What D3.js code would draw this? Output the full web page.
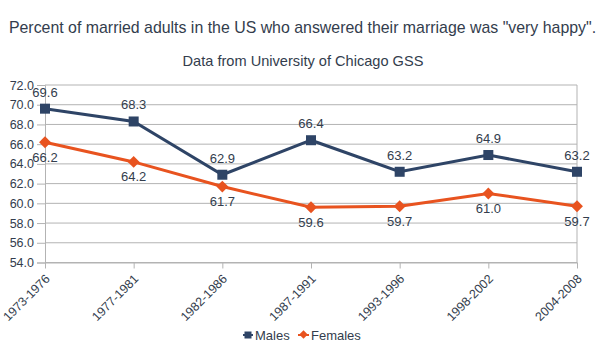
<!DOCTYPE html>
<html><head><meta charset="utf-8">
<script src="https://cdn.jsdelivr.net/npm/d3@7"></script>
<style>body{margin:0;background:#fff}svg{display:block;font-family:"Liberation Sans",Arial,sans-serif}</style>
</head><body>
<script>
const categories = ["1973-1976","1977-1981","1982-1986","1987-1991","1993-1996","1998-2002","2004-2008"];
const males = [69.6, 68.3, 62.9, 66.4, 63.2, 64.9, 63.2];
const females = [66.2, 64.2, 61.7, 59.6, 59.7, 61.0, 59.7];
const yTicks = [54,56,58,60,62,64,66,68,70,72];

(function(){
const W = 605, H = 351;
const mLeft = 45, mRight = 577, mTop = 85, mBottom = 262.5;
const textColor = "#333d4d";
const maleColor = "#2e4466", femaleColor = "#e8531f", gridColor = "#b3b3b3";
const FF = "Liberation Sans, Arial, sans-serif";

const svg = d3.select("body").append("svg").attr("width", W).attr("height", H);
const x = d3.scalePoint().domain(categories).range([mLeft, mRight]);
const y = d3.scaleLinear().domain([54, 72]).range([mBottom, mTop]);

svg.append("text").attr("x", 302.5).attr("y", 33).attr("text-anchor", "middle")
  .attr("font-size", 15.9).attr("fill", textColor)
  .text('Percent of married adults in the US who answered their marriage was "very happy".');
svg.append("text").attr("x", 303).attr("y", 65.5).attr("text-anchor", "middle")
  .attr("font-size", 14.6).attr("fill", textColor).text("Data from University of Chicago GSS");

svg.append("g").selectAll("line").data(yTicks).join("line")
  .attr("x1", mLeft).attr("x2", mRight).attr("y1", d => y(d)).attr("y2", d => y(d))
  .attr("stroke", gridColor).attr("stroke-width", 1);
svg.append("line").attr("x1", mRight).attr("x2", mRight).attr("y1", mTop).attr("y2", mBottom).attr("stroke", gridColor);

const yAxis = svg.append("g").attr("transform", `translate(${mLeft},0)`)
  .call(d3.axisLeft(y).tickValues(yTicks).tickFormat(d3.format(".1f")).tickSize(8).tickPadding(3));
yAxis.select(".domain").attr("stroke", gridColor);
yAxis.selectAll(".tick line").attr("stroke", gridColor);
yAxis.selectAll("text").attr("fill", textColor).attr("font-size", 12.5).attr("font-family", FF);

const xAxis = svg.append("g").attr("transform", `translate(0,${mBottom})`)
  .call(d3.axisBottom(x).tickSize(6).tickSizeOuter(0));
xAxis.select(".domain").attr("stroke", gridColor);
xAxis.selectAll(".tick line").attr("stroke", gridColor);
xAxis.selectAll("text").attr("fill", textColor).attr("font-size", 12.5)
  .attr("font-family", FF)
  .attr("text-anchor", "end").attr("dy", "0.35em")
  .attr("transform", "translate(2,14) rotate(-45)").attr("x", 0).attr("y", 0);

const line = d3.line().x((d, i) => x(categories[i])).y(d => y(d));

svg.append("path").datum(females).attr("d", line).attr("fill", "none")
  .attr("stroke", femaleColor).attr("stroke-width", 3);
svg.append("path").datum(males).attr("d", line).attr("fill", "none")
  .attr("stroke", maleColor).attr("stroke-width", 3);

svg.append("g").selectAll("rect").data(males).join("rect")
  .attr("x", (d, i) => x(categories[i]) - 5).attr("y", d => y(d) - 5)
  .attr("width", 10).attr("height", 10).attr("fill", maleColor);
const dia = d3.symbol().type(d3.symbolDiamond2).size(90);
svg.append("g").selectAll("path").data(females).join("path")
  .attr("d", dia).attr("transform", (d, i) => `translate(${x(categories[i])},${y(d)})`)
  .attr("fill", femaleColor);

svg.append("g").selectAll("text").data(males).join("text")
  .attr("x", (d, i) => x(categories[i])).attr("y", d => y(d) - 12)
  .attr("text-anchor", "middle").attr("font-size", 13).attr("fill", textColor)
  .text(d => d.toFixed(1));
svg.append("g").selectAll("text").data(females).join("text")
  .attr("x", (d, i) => x(categories[i])).attr("y", d => y(d) + 19.5)
  .attr("text-anchor", "middle").attr("font-size", 13).attr("fill", textColor)
  .text(d => d.toFixed(1));

const lg = svg.append("g").attr("transform", "translate(243,335)");
lg.append("line").attr("x1", 0).attr("x2", 10).attr("y1", 0).attr("y2", 0).attr("stroke", maleColor).attr("stroke-width", 2);
lg.append("rect").attr("x", 1.5).attr("y", -3.5).attr("width", 7).attr("height", 7).attr("fill", maleColor);
lg.append("text").attr("x", 12).attr("y", 4.5).attr("font-size", 13).attr("fill", textColor).text("Males");
lg.append("line").attr("x1", 55).attr("x2", 66).attr("y1", 0).attr("y2", 0).attr("stroke", femaleColor).attr("stroke-width", 2);
lg.append("path").attr("d", d3.symbol().type(d3.symbolDiamond2).size(45)).attr("transform", "translate(60.5,-0.5)").attr("fill", femaleColor);
lg.append("text").attr("x", 68).attr("y", 4.5).attr("font-size", 13).attr("fill", textColor).text("Females");
})();
</script>
</body></html>
